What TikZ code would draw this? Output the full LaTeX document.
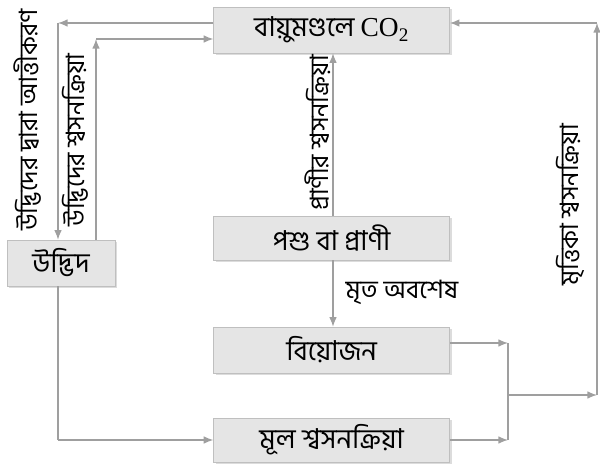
\documentclass[tikz,border=0pt]{standalone}
\usepackage{fontspec}
\setmainfont{Hind Siliguri}[Script=Bengali]
\newfontfamily\latinserif{Liberation Serif}
\usetikzlibrary{arrows.meta,shadows}

\tikzset{
  stage/.style={draw=gray!50, fill=gray!20, minimum height=1.15cm, font=\fontsize{19.5}{22}\selectfont,
    drop shadow={shadow xshift=0.06cm, shadow yshift=-0.06cm, fill=gray!55}},
  flow/.style={draw=gray!75, line width=0.9pt, -{Latex[length=2.4mm,width=1.9mm]}},
  line/.style={draw=gray!75, line width=0.9pt},
  note/.style={font=\fontsize{18}{20}\selectfont}
}

\begin{document}
\begin{tikzpicture}
  \useasboundingbox (0,0) rectangle (15,11.65);
  % boxes
  \node[stage, minimum width=5.9cm] (co2) at (8.29,10.9) {বায়ুমণ্ডলে {\latinserif CO\textsubscript{2}}};
  \node[stage, minimum width=2.7cm] (plant) at (1.525,5.075) {উদ্ভিদ};
  \node[stage, minimum width=5.9cm, minimum height=1.1cm] (animal) at (8.29,5.7) {পশু বা প্রাণী};
  \node[stage, minimum width=5.9cm] (decomp) at (8.29,2.9) {বিয়োজন};
  \node[stage, minimum width=5.9cm, minimum height=1.1cm] (root) at (8.29,0.65) {মূল শ্বসনক্রিয়া};
  % corners of the connectors
  \coordinate (p1) at (1.45,11.075);
  \coordinate (p2) at (2.4,10.675);
  \coordinate (p3) at (1.45,0.65);
  \coordinate (j1) at (12.7,3.075);
  \coordinate (j2) at (12.7,0.65);
  \coordinate (j3) at (12.7,1.775);
  \coordinate (s1) at (14.925,1.775);
  \coordinate (s2) at (14.925,11.075);
  % plants: uptake and respiration
  \draw[flow] (co2.west|-p1) -- (p1);
  \draw[flow] (p1) -- (plant.north-|p1);
  \draw[flow] (plant.north-|p2) -- (p2);
  \draw[flow] (p2) -- (co2.west|-p2);
  % animals
  \draw[flow] (animal.north-|8.325,0) -- (co2.south-|8.325,0);
  \draw[flow] (animal.south-|8.325,0) -- (decomp.north-|8.325,0);
  % roots
  \draw[line] (plant.south-|p3) -- (p3);
  \draw[flow] (p3) -- (root.west);
  % soil respiration
  \draw[flow] (decomp.east|-j1) -- (j1);
  \draw[flow] (root.east) -- (j2);
  \draw[line] (j1) -- (j2);
  \draw[flow] (j3) -- (s1);
  \draw[flow] (s1) -- (s2);
  \draw[flow] (s2) -- (co2.east|-s2);
  % labels
  \node[note, rotate=90] (l1) at (0.7,8.65) {উদ্ভিদের দ্বারা আত্তীকরণ};
  \node[note, rotate=90] (l2) at (1.875,8.15) {উদ্ভিদের শ্বসনক্রিয়া};
  \node[note, rotate=90] (l3) at (7.95,8.325) {প্রাণীর শ্বসনক্রিয়া};
  \node[note] (l4) at (10.05,4.35) {মৃত অবশেষ};
  \node[note, rotate=90] (l5) at (14.25,6.525) {মৃত্তিকা শ্বসনক্রিয়া};
\end{tikzpicture}
\end{document}
